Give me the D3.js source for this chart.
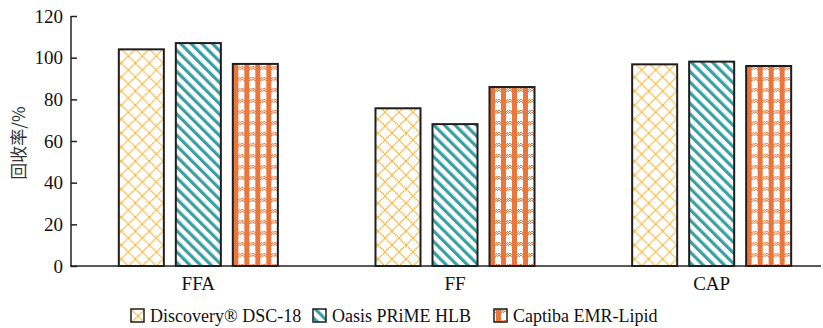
<!DOCTYPE html>
<html>
<head>
<meta charset="utf-8">
<script src="https://cdn.jsdelivr.net/npm/d3@7"></script>
<style>
body { margin: 0; background: #fff; }
svg { display: block; }
.serif { font-family: "Liberation Serif", "DejaVu Serif", "Times New Roman", serif; }
</style>
</head>
<body>
<div id="chart"></div>
<script>
// categories and series
var categories = ["FFA", "FF", "CAP"];
var series = ["Discovery® DSC-18", "Oasis PRiME HLB", "Captiba EMR-Lipid"];
// recovery values per series (same order as categories)
var discovery = [104, 75.7, 96.8];
var oasis = [107, 68.1, 98.1];
var captiba = [97, 85.9, 96];
var yTicks = [0, 20, 40, 60, 80, 100, 120];

var values = [discovery, oasis, captiba];

var width = 823, height = 328;

var svg = d3.select("#chart").append("svg")
	.attr("width", width)
	.attr("height", height);

// patterns
var defs = svg.append("defs");

// yellow diamond lattice
var p1 = defs.append("pattern")
	.attr("id", "pat0")
	.attr("patternUnits", "userSpaceOnUse")
	.attr("width", 14).attr("height", 14);
p1.append("rect").attr("width", 14).attr("height", 14).attr("fill", "#fff");
p1.append("path")
	.attr("d", "M0,0 L14,14 M14,0 L0,14")
	.attr("stroke", "#f5b133")
	.attr("stroke-width", 1.5)
	.attr("stroke-dasharray", "1.4,0.7")
	.attr("fill", "none");

// teal diagonal stripes
var p2 = defs.append("pattern")
	.attr("id", "pat1")
	.attr("patternUnits", "userSpaceOnUse")
	.attr("width", 7.5).attr("height", 10)
	.attr("patternTransform", "rotate(-45)");
p2.append("rect").attr("width", 7.5).attr("height", 10).attr("fill", "#fff");
p2.append("rect").attr("x", 0).attr("width", 3.2).attr("height", 10).attr("fill", "#3a9fa2");

// orange plaid
var p3 = defs.append("pattern")
	.attr("id", "pat2")
	.attr("patternUnits", "userSpaceOnUse")
	.attr("width", 11).attr("height", 11);
p3.append("rect").attr("width", 11).attr("height", 11).attr("fill", "#fff");
// checkered horizontal band
for (var r = 0; r < 4; r++) {
	for (var c = 0; c < 11; c++) {
		if ((r + c) % 2 == 0) {
			p3.append("rect").attr("x", c).attr("y", r).attr("width", 1).attr("height", 1).attr("fill", "#e8763d");
		}
	}
}
p3.append("rect").attr("x", 2).attr("y", 0).attr("width", 5).attr("height", 11).attr("fill", "#e8763d");

// scales
var x0 = d3.scaleBand()
	.domain(categories)
	.range([70, 840]);

var x1 = d3.scaleBand()
	.domain(series)
	.range([-85.5, 85.5])
	.paddingInner(0.21)
	.paddingOuter(0.105);

var y = d3.scaleLinear()
	.domain([0, 120])
	.range([266, 16]);

// bars
var groups = svg.append("g").selectAll("g")
	.data(categories)
	.enter().append("g")
	.attr("transform", function(d) { return "translate(" + (x0(d) + x0.bandwidth() / 2) + ",0)"; });

groups.selectAll("rect")
	.data(function(d, ci) { return series.map(function(s, si) { return { s: s, si: si, v: values[si][ci] }; }); })
	.enter().append("rect")
	.attr("x", function(d) { return x1(d.s); })
	.attr("y", function(d) { return y(d.v); })
	.attr("width", x1.bandwidth())
	.attr("height", function(d) { return y(0) - y(d.v); })
	.attr("fill", function(d) { return "url(#pat" + d.si + ")"; })
	.attr("stroke", "#1e1e1e")
	.attr("stroke-width", 2);

// y axis
var yAxis = svg.append("g")
	.attr("transform", "translate(71,0)")
	.call(d3.axisRight(y).tickValues(yTicks).tickSize(6).tickFormat(d3.format("d")));
yAxis.attr("font-family", null);
yAxis.select(".domain").attr("d", "M0,16V266").attr("stroke", "#222").attr("stroke-width", 1.5);
yAxis.selectAll(".tick line").attr("stroke", "#222").attr("stroke-width", 1.5);
yAxis.selectAll(".tick text")
	.attr("class", "serif")
	.attr("x", -8)
	.attr("text-anchor", "end")
	.style("font-size", "19px")
	.attr("fill", "#111");

// x axis line
svg.append("line")
	.attr("x1", 70).attr("x2", 821)
	.attr("y1", 266).attr("y2", 266)
	.attr("stroke", "#222").attr("stroke-width", 1.5);

svg.append("g").selectAll("text")
	.data(categories)
	.enter().append("text")
	.attr("class", "serif")
	.attr("x", function(d) { return x0(d) + x0.bandwidth() / 2; })
	.attr("y", 290)
	.attr("text-anchor", "middle")
	.style("font-size", "19px")
	.attr("fill", "#111")
	.text(function(d) { return d; });

// y label
svg.append("text")
	.attr("transform", "translate(25,143) rotate(-90)")
	.attr("text-anchor", "middle")
	.style("font-family", "'Noto Sans CJK SC', sans-serif")
	.style("font-size", "17px")
	.attr("fill", "#333")
	.text("回收率/%");

// legend
var legendX = [131, 313, 494];
var legend = svg.append("g").selectAll("g")
	.data(series)
	.enter().append("g")
	.attr("transform", function(d, i) { return "translate(" + legendX[i] + ",309)"; });

legend.append("rect")
	.attr("width", 13).attr("height", 13)
	.attr("fill", function(d, i) { return "url(#pat" + i + ")"; })
	.attr("stroke", "#1e1e1e")
	.attr("stroke-width", 1.5);

legend.append("text")
	.attr("class", "serif")
	.attr("x", 19)
	.attr("y", 13)
	.style("font-size", "18px")
	.attr("fill", "#111")
	.text(function(d) { return d; });
</script>
</body>
</html>
